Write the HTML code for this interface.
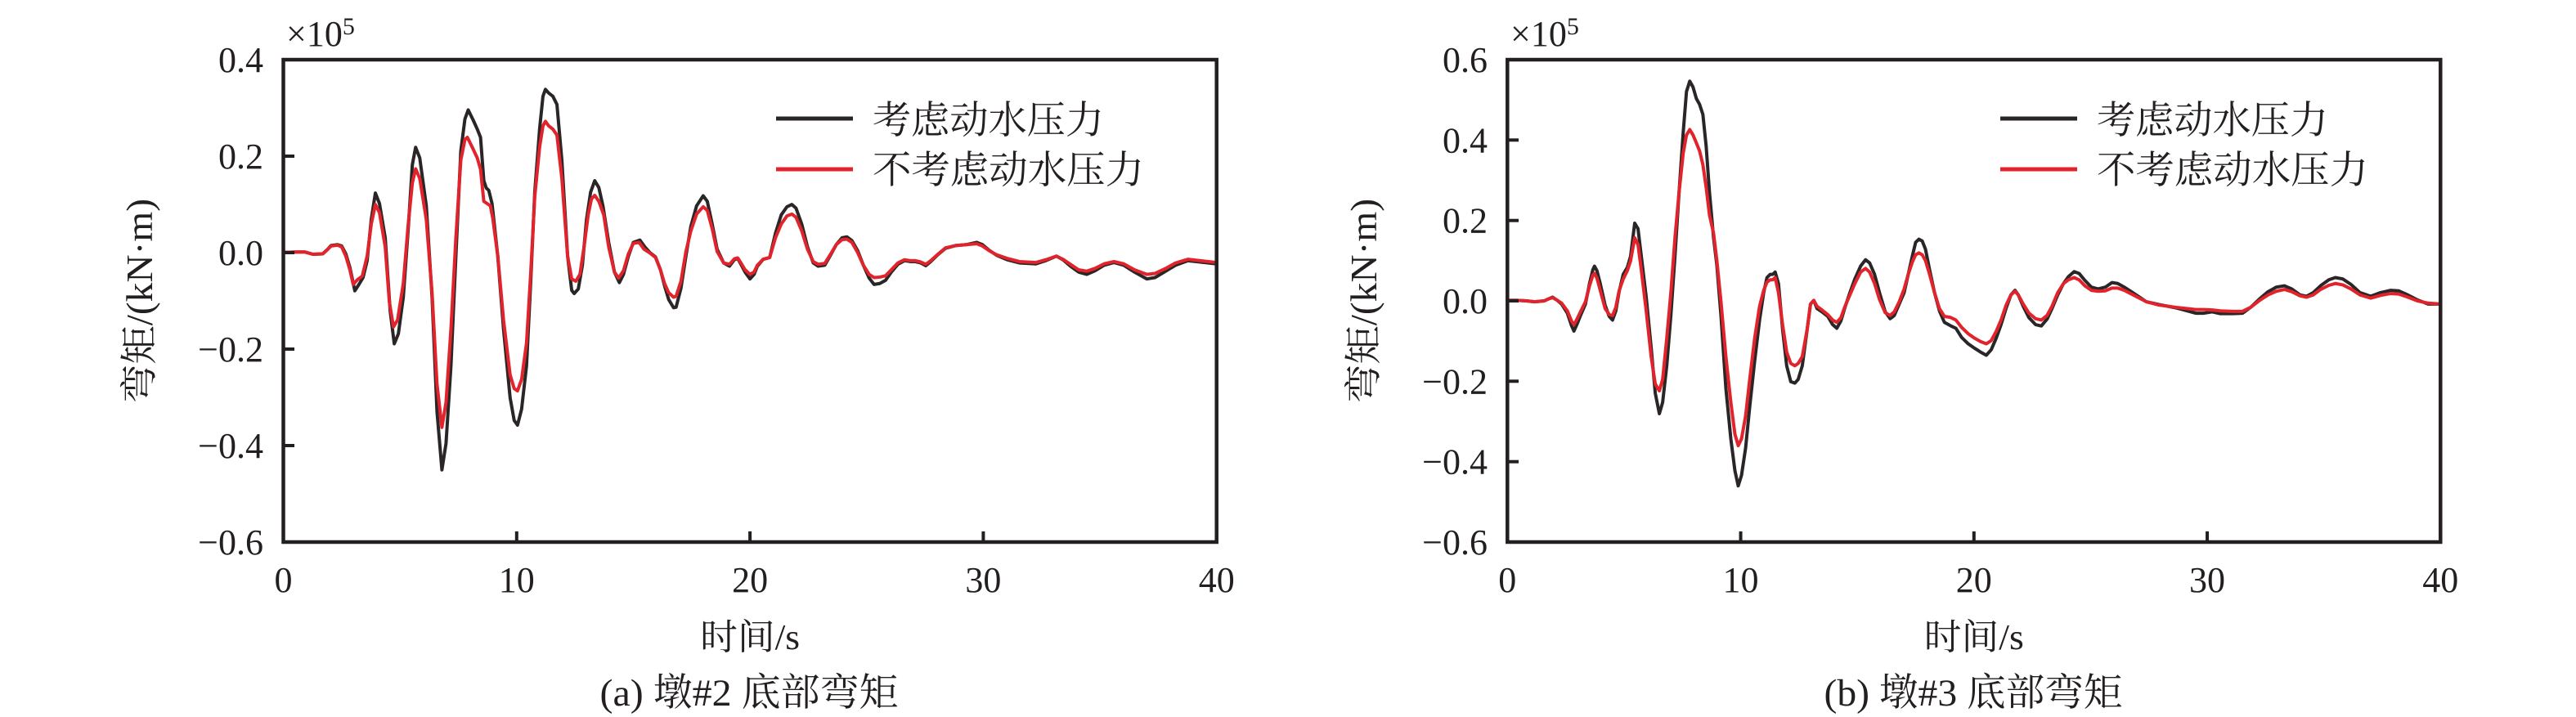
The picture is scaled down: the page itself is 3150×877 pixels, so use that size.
<!DOCTYPE html>
<html>
<head>
<meta charset="utf-8">
<style>
html,body{margin:0;padding:0;background:#fff;}
svg{display:block;}
text{font-family:"Liberation Serif","Noto Serif CJK SC",serif;fill:#231f20;}
</style>
</head>
<body>
<svg width="3150" height="877" viewBox="0 0 3150 877" xmlns="http://www.w3.org/2000/svg">
<rect x="0" y="0" width="3150" height="877" fill="#fff"/>

<!-- ================= PANEL 1 ================= -->
<g>
  <g transform="translate(346.5,73) scale(1.0046,0.5587) translate(-344,-130)" fill="none" stroke-linejoin="round" stroke-linecap="round">
    <polyline vector-effect="non-scaling-stroke" stroke="#2a2627" stroke-width="4" points="344,552 360,551 370,551 380,556 392,555 398,545 402,537 410,535 415,538 420,555 425,585 431,636 436,622 441,607 446,570 451,480 456,422 461,445 468,520 474,680 479,752 484,730 490,650 496,500 501,360 505,322 510,345 518,450 525,650 531,900 537,1028 542,970 548,800 554,560 560,330 565,260 569,240 575,262 580,282 584,300 588,395 591,411 594,416 598,445 605,560 612,720 620,870 625,920 629,930 634,895 640,800 645,620 650,420 656,280 660,210 663,195 667,203 672,210 677,228 683,350 690,560 695,635 698,642 703,632 708,580 713,480 718,420 723,395 728,410 733,450 740,530 747,595 753,618 758,600 764,560 770,530 778,525 784,540 790,552 797,562 803,590 808,625 813,655 819,673 822,672 828,630 834,560 840,495 847,450 855,428 860,440 866,490 872,545 880,575 887,582 893,568 897,565 901,578 906,595 912,610 917,600 921,582 928,567 936,563 943,510 950,470 957,452 963,447 968,455 975,490 982,540 989,575 995,582 1003,580 1010,558 1017,535 1024,520 1030,518 1036,526 1043,548 1050,580 1057,608 1063,622 1070,620 1077,613 1084,595 1092,578 1100,570 1107,572 1113,572 1120,575 1126,581 1132,572 1140,558 1150,543 1162,537 1175,535 1188,530 1195,535 1203,547 1212,558 1225,568 1240,575 1260,577 1272,570 1285,560 1293,568 1302,582 1312,595 1322,600 1332,592 1343,580 1355,574 1367,580 1380,595 1395,610 1405,607 1418,593 1430,580 1445,570 1460,573 1480,577"/>
    <polyline vector-effect="non-scaling-stroke" stroke="#e1242c" stroke-width="4" points="344,552 360,551 370,551 380,556 392,555 398,545 402,538 410,536 415,540 420,560 425,590 429,622 434,612 440,604 446,560 451,490 456,447 461,465 468,540 473,660 478,715 483,700 490,620 496,490 501,400 505,369 510,390 518,480 525,640 531,840 537,935 542,880 548,720 554,520 560,350 565,305 568,300 574,322 580,345 584,370 588,440 592,445 596,450 599,478 605,560 612,700 620,820 625,850 629,855 634,830 640,750 645,600 650,430 656,320 660,275 663,265 667,275 672,282 677,295 683,390 690,560 695,610 700,615 705,600 710,540 715,470 719,435 723,427 728,440 734,470 740,540 747,595 752,608 758,592 764,555 770,532 777,530 783,545 790,553 797,563 803,590 808,620 813,640 819,650 822,648 828,615 834,550 840,505 847,468 855,452 860,460 866,500 872,550 880,575 887,578 893,566 897,564 901,575 906,590 912,600 917,595 921,580 928,567 936,563 943,520 950,490 957,472 963,468 968,475 975,505 982,545 989,572 995,578 1003,576 1010,556 1017,535 1024,524 1030,523 1036,530 1043,552 1050,580 1057,600 1063,607 1070,606 1077,603 1084,590 1092,575 1100,568 1107,570 1113,570 1120,573 1126,578 1132,570 1140,557 1150,542 1162,537 1175,535 1188,533 1195,538 1203,548 1212,557 1225,565 1240,572 1260,574 1272,568 1285,560 1293,567 1302,578 1312,590 1322,593 1332,587 1343,577 1355,572 1367,577 1380,590 1395,600 1405,598 1418,587 1430,575 1445,567 1460,570 1480,574"/>
  </g>
  <rect x="346.5" y="73" width="1141.2" height="590" fill="none" stroke="#231f20" stroke-width="4.5"/>
  <g stroke="#231f20" stroke-width="4">
    <line x1="346.5" y1="191" x2="360" y2="191"/>
    <line x1="346.5" y1="309" x2="360" y2="309"/>
    <line x1="346.5" y1="427" x2="360" y2="427"/>
    <line x1="346.5" y1="545" x2="360" y2="545"/>
    <line x1="631.8" y1="663" x2="631.8" y2="650"/>
    <line x1="917.1" y1="663" x2="917.1" y2="650"/>
    <line x1="1202.4" y1="663" x2="1202.4" y2="650"/>
  </g>
  <g font-size="44" text-anchor="end">
    <text x="322" y="88">0.4</text>
    <text x="322" y="206">0.2</text>
    <text x="322" y="324">0.0</text>
    <text x="322" y="442">−0.2</text>
    <text x="322" y="560">−0.4</text>
    <text x="322" y="678">−0.6</text>
  </g>
  <g font-size="44" text-anchor="middle">
    <text x="346.5" y="724">0</text>
    <text x="631.8" y="724">10</text>
    <text x="917.1" y="724">20</text>
    <text x="1202.4" y="724">30</text>
    <text x="1487.7" y="724">40</text>
  </g>
  <text x="350" y="56" font-size="44">×10<tspan font-size="30" dy="-14">5</tspan></text>
  <line x1="949" y1="145" x2="1043" y2="145" stroke="#2a2627" stroke-width="5"/>
  <line x1="949" y1="207" x2="1043" y2="207" stroke="#e1242c" stroke-width="5"/>
  <text x="1067" y="163" font-size="47" textLength="283" lengthAdjust="spacingAndGlyphs">考虑动水压力</text>
  <text x="1067" y="224" font-size="47" textLength="332" lengthAdjust="spacingAndGlyphs">不考虑动水压力</text>
  <text x="917.1" y="794" font-size="44" text-anchor="middle" textLength="122" lengthAdjust="spacingAndGlyphs">时间/s</text>
  <text transform="translate(186,368) rotate(-90)" x="0" y="0" font-size="46" text-anchor="middle" textLength="250" lengthAdjust="spacingAndGlyphs">弯矩/(kN·m)</text>
  <text x="916" y="863" font-size="47" text-anchor="middle" textLength="365" lengthAdjust="spacingAndGlyphs">(a) 墩#2 底部弯矩</text>
</g>

<!-- ================= PANEL 2 ================= -->
<g>
  <g transform="translate(1843.3,73) scale(1.0044,0.5587) translate(-267,-130)" fill="none" stroke-linejoin="round" stroke-linecap="round">
    <polyline vector-effect="non-scaling-stroke" stroke="#2a2627" stroke-width="4" points="267,657 280,657 290,658 300,660 312,658 318,653 322,650 327,656 333,665 340,685 345,712 348,724 352,708 356,690 362,665 367,620 371,590 373,582 376,592 380,620 386,668 391,692 395,700 399,680 403,638 408,600 413,585 417,560 422,488 426,500 430,560 436,650 442,760 447,860 452,905 456,880 461,800 466,690 471,560 476,420 481,290 485,200 489,177 493,190 497,215 501,228 505,250 509,320 513,420 518,520 522,580 527,690 533,850 539,960 544,1030 548,1063 552,1040 557,980 562,890 568,790 574,700 579,640 583,607 587,600 590,600 593,595 597,620 602,720 607,800 612,835 617,838 621,830 626,800 632,720 636,665 640,657 644,675 650,682 657,692 663,710 668,718 673,702 678,672 684,640 690,610 697,582 703,568 708,575 714,600 720,640 727,682 733,697 738,690 744,665 750,640 755,600 760,560 764,530 768,523 772,527 776,545 781,590 787,640 793,680 799,705 806,712 813,718 820,738 828,752 836,762 843,770 850,777 856,765 862,740 868,710 874,675 880,645 885,635 889,645 895,670 902,695 910,710 917,713 924,698 930,675 937,645 944,620 950,605 957,594 963,598 970,613 978,628 986,632 995,628 1003,618 1010,620 1018,628 1030,642 1045,660 1060,666 1080,673 1095,680 1105,685 1115,685 1125,682 1135,686 1150,686 1162,685 1172,672 1182,655 1193,638 1203,628 1213,625 1222,632 1232,645 1240,648 1248,640 1257,625 1267,612 1275,607 1284,610 1294,622 1305,640 1318,648 1330,640 1342,635 1352,636 1362,644 1375,656 1388,665 1403,665"/>
    <polyline vector-effect="non-scaling-stroke" stroke="#e1242c" stroke-width="4" points="267,657 280,657 290,658 300,660 312,658 318,653 322,651 327,656 333,663 340,680 345,702 348,710 352,697 356,682 362,660 367,625 371,602 373,598 376,608 380,635 386,675 391,688 395,690 399,672 403,636 408,610 413,592 417,570 422,520 426,535 430,590 436,680 442,780 447,840 452,855 456,830 461,740 466,640 471,520 476,420 481,335 485,295 489,283 493,295 497,312 501,330 505,360 509,410 513,470 518,510 522,570 527,660 533,780 539,880 544,950 548,975 552,960 557,910 562,830 568,740 574,670 579,635 583,617 587,612 590,612 593,607 597,640 602,710 607,770 612,795 617,800 621,795 626,780 632,720 636,665 640,657 644,670 650,678 657,688 663,700 668,705 673,695 678,670 684,645 690,620 697,595 703,587 708,595 714,620 720,655 727,684 733,690 738,682 744,660 750,632 755,600 760,573 764,557 768,553 772,557 776,570 781,600 787,640 793,675 799,692 806,694 813,700 820,716 828,730 836,740 843,747 850,752 856,745 862,725 868,700 874,668 880,645 885,637 889,645 895,665 902,685 910,697 917,700 924,690 930,670 937,640 944,620 950,612 957,607 963,612 970,625 978,635 986,637 995,636 1003,630 1010,630 1018,635 1030,646 1045,660 1060,667 1080,672 1095,675 1105,677 1115,677 1125,678 1135,680 1150,681 1162,681 1172,672 1182,658 1193,645 1203,637 1213,633 1222,638 1232,647 1240,650 1248,645 1257,633 1267,624 1275,620 1284,623 1294,632 1305,645 1318,652 1330,646 1342,642 1352,643 1362,649 1375,658 1388,663 1403,665"/>
  </g>
  <rect x="1843.3" y="73" width="1141" height="590" fill="none" stroke="#231f20" stroke-width="4.5"/>
  <g stroke="#231f20" stroke-width="4">
    <line x1="1843.3" y1="171.3" x2="1857" y2="171.3"/>
    <line x1="1843.3" y1="269.7" x2="1857" y2="269.7"/>
    <line x1="1843.3" y1="368" x2="1857" y2="368"/>
    <line x1="1843.3" y1="466.3" x2="1857" y2="466.3"/>
    <line x1="1843.3" y1="564.7" x2="1857" y2="564.7"/>
    <line x1="2128.55" y1="663" x2="2128.55" y2="650"/>
    <line x1="2413.8" y1="663" x2="2413.8" y2="650"/>
    <line x1="2699.05" y1="663" x2="2699.05" y2="650"/>
  </g>
  <g font-size="44" text-anchor="end">
    <text x="1819" y="88">0.6</text>
    <text x="1819" y="186.3">0.4</text>
    <text x="1819" y="284.7">0.2</text>
    <text x="1819" y="383">0.0</text>
    <text x="1819" y="481.3">−0.2</text>
    <text x="1819" y="579.7">−0.4</text>
    <text x="1819" y="678">−0.6</text>
  </g>
  <g font-size="44" text-anchor="middle">
    <text x="1843.3" y="724">0</text>
    <text x="2128.55" y="724">10</text>
    <text x="2413.8" y="724">20</text>
    <text x="2699.05" y="724">30</text>
    <text x="2984.3" y="724">40</text>
  </g>
  <text x="1847" y="56" font-size="44">×10<tspan font-size="30" dy="-14">5</tspan></text>
  <line x1="2446" y1="145" x2="2540" y2="145" stroke="#2a2627" stroke-width="5"/>
  <line x1="2446" y1="207" x2="2540" y2="207" stroke="#e1242c" stroke-width="5"/>
  <text x="2564" y="163" font-size="47" textLength="283" lengthAdjust="spacingAndGlyphs">考虑动水压力</text>
  <text x="2564" y="224" font-size="47" textLength="332" lengthAdjust="spacingAndGlyphs">不考虑动水压力</text>
  <text x="2413.8" y="794" font-size="44" text-anchor="middle" textLength="122" lengthAdjust="spacingAndGlyphs">时间/s</text>
  <text transform="translate(1683,368) rotate(-90)" x="0" y="0" font-size="46" text-anchor="middle" textLength="250" lengthAdjust="spacingAndGlyphs">弯矩/(kN·m)</text>
  <text x="2413" y="863" font-size="47" text-anchor="middle" textLength="365" lengthAdjust="spacingAndGlyphs">(b) 墩#3 底部弯矩</text>
</g>
</svg>
</body>
</html>
